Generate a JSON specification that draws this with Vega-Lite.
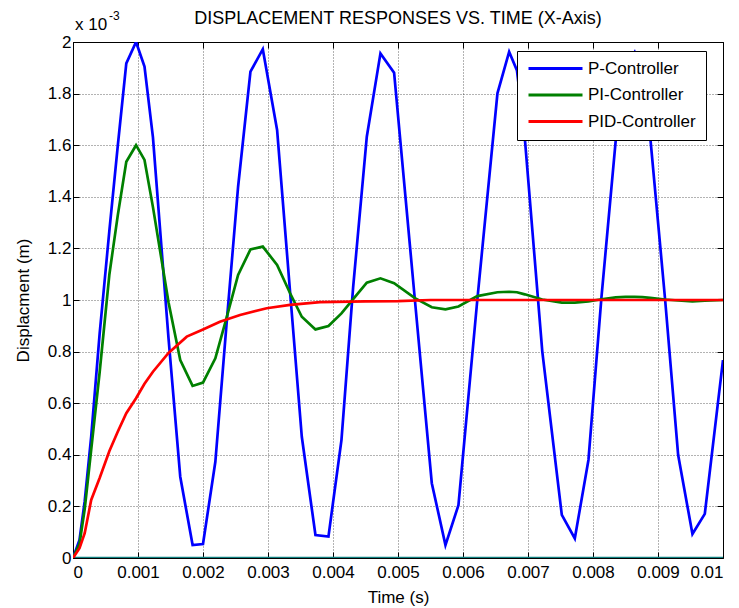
{
  "$schema": "https://vega.github.io/schema/vega-lite/v6.json",
  "width": 650,
  "height": 516,
  "autosize": {"type": "none"},
  "padding": {"left": 73, "top": 42, "right": 16, "bottom": 50},
  "background": "white",
  "title": {
    "text": "DISPLACEMENT RESPONSES VS. TIME (X-Axis)",
    "font": "Liberation Sans",
    "fontSize": 18,
    "fontWeight": "normal",
    "color": "black",
    "anchor": "middle",
    "frame": "group",
    "offset": -18
  },
  "config": {
    "font": "Liberation Sans",
    "view": {"stroke": "black", "strokeWidth": 1},
    "axis": {
      "labelFont": "Liberation Sans",
      "labelFontSize": 17,
      "labelColor": "black",
      "titleFont": "Liberation Sans",
      "titleFontSize": 17,
      "titleFontWeight": "normal",
      "titleColor": "black",
      "domain": false,
      "tickColor": "black",
      "tickSize": -6,
      "gridColor": "#000000",
      "gridOpacity": 0.6,
      "gridDash": [1, 2],
      "gridWidth": 1
    }
  },
  "datasets": {
    "series": [
      {"t": 0, "d": 0, "c": "P-Controller"},
      {"t": 0.0001, "d": 0.07, "c": "P-Controller"},
      {"t": 0.00018, "d": 0.22, "c": "P-Controller"},
      {"t": 0.00028, "d": 0.47, "c": "P-Controller"},
      {"t": 0.00041, "d": 0.87, "c": "P-Controller"},
      {"t": 0.00056, "d": 1.27, "c": "P-Controller"},
      {"t": 0.00069, "d": 1.6, "c": "P-Controller"},
      {"t": 0.00082, "d": 1.917, "c": "P-Controller"},
      {"t": 0.00097, "d": 2.0, "c": "P-Controller"},
      {"t": 0.0011, "d": 1.905, "c": "P-Controller"},
      {"t": 0.00123, "d": 1.63, "c": "P-Controller"},
      {"t": 0.00147, "d": 0.85, "c": "P-Controller"},
      {"t": 0.00165, "d": 0.315, "c": "P-Controller"},
      {"t": 0.00184, "d": 0.05, "c": "P-Controller"},
      {"t": 0.002, "d": 0.054, "c": "P-Controller"},
      {"t": 0.00219, "d": 0.373, "c": "P-Controller"},
      {"t": 0.00236, "d": 0.9, "c": "P-Controller"},
      {"t": 0.00254, "d": 1.439, "c": "P-Controller"},
      {"t": 0.00273, "d": 1.885, "c": "P-Controller"},
      {"t": 0.00292, "d": 1.972, "c": "P-Controller"},
      {"t": 0.00314, "d": 1.659, "c": "P-Controller"},
      {"t": 0.00334, "d": 1.03, "c": "P-Controller"},
      {"t": 0.00352, "d": 0.47, "c": "P-Controller"},
      {"t": 0.00373, "d": 0.089, "c": "P-Controller"},
      {"t": 0.00393, "d": 0.083, "c": "P-Controller"},
      {"t": 0.00413, "d": 0.457, "c": "P-Controller"},
      {"t": 0.00431, "d": 1.05, "c": "P-Controller"},
      {"t": 0.00452, "d": 1.633, "c": "P-Controller"},
      {"t": 0.00473, "d": 1.956, "c": "P-Controller"},
      {"t": 0.00494, "d": 1.881, "c": "P-Controller"},
      {"t": 0.00526, "d": 1.0, "c": "P-Controller"},
      {"t": 0.00552, "d": 0.29, "c": "P-Controller"},
      {"t": 0.00573, "d": 0.05, "c": "P-Controller"},
      {"t": 0.00593, "d": 0.205, "c": "P-Controller"},
      {"t": 0.00622, "d": 1.0, "c": "P-Controller"},
      {"t": 0.00653, "d": 1.801, "c": "P-Controller"},
      {"t": 0.00671, "d": 1.962, "c": "P-Controller"},
      {"t": 0.00683, "d": 1.89, "c": "P-Controller"},
      {"t": 0.00695, "d": 1.63, "c": "P-Controller"},
      {"t": 0.00722, "d": 0.8, "c": "P-Controller"},
      {"t": 0.00752, "d": 0.167, "c": "P-Controller"},
      {"t": 0.00772, "d": 0.076, "c": "P-Controller"},
      {"t": 0.00793, "d": 0.38, "c": "P-Controller"},
      {"t": 0.00813, "d": 1.01, "c": "P-Controller"},
      {"t": 0.00835, "d": 1.62, "c": "P-Controller"},
      {"t": 0.0085, "d": 1.9, "c": "P-Controller"},
      {"t": 0.00864, "d": 1.96, "c": "P-Controller"},
      {"t": 0.00876, "d": 1.86, "c": "P-Controller"},
      {"t": 0.00888, "d": 1.633, "c": "P-Controller"},
      {"t": 0.00911, "d": 1.0, "c": "P-Controller"},
      {"t": 0.00931, "d": 0.399, "c": "P-Controller"},
      {"t": 0.00953, "d": 0.093, "c": "P-Controller"},
      {"t": 0.00972, "d": 0.171, "c": "P-Controller"},
      {"t": 0.01, "d": 0.767, "c": "P-Controller"},

      {"t": 0, "d": 0, "c": "PI-Controller"},
      {"t": 0.0001, "d": 0.055, "c": "PI-Controller"},
      {"t": 0.00018, "d": 0.19, "c": "PI-Controller"},
      {"t": 0.00028, "d": 0.42, "c": "PI-Controller"},
      {"t": 0.00041, "d": 0.72, "c": "PI-Controller"},
      {"t": 0.00056, "d": 1.1, "c": "PI-Controller"},
      {"t": 0.00069, "d": 1.33, "c": "PI-Controller"},
      {"t": 0.00082, "d": 1.536, "c": "PI-Controller"},
      {"t": 0.00097, "d": 1.6, "c": "PI-Controller"},
      {"t": 0.0011, "d": 1.543, "c": "PI-Controller"},
      {"t": 0.00123, "d": 1.36, "c": "PI-Controller"},
      {"t": 0.00147, "d": 0.99, "c": "PI-Controller"},
      {"t": 0.00165, "d": 0.767, "c": "PI-Controller"},
      {"t": 0.00184, "d": 0.667, "c": "PI-Controller"},
      {"t": 0.002, "d": 0.68, "c": "PI-Controller"},
      {"t": 0.00219, "d": 0.774, "c": "PI-Controller"},
      {"t": 0.00236, "d": 0.929, "c": "PI-Controller"},
      {"t": 0.00254, "d": 1.097, "c": "PI-Controller"},
      {"t": 0.00273, "d": 1.196, "c": "PI-Controller"},
      {"t": 0.00292, "d": 1.207, "c": "PI-Controller"},
      {"t": 0.00314, "d": 1.136, "c": "PI-Controller"},
      {"t": 0.00334, "d": 1.026, "c": "PI-Controller"},
      {"t": 0.00352, "d": 0.935, "c": "PI-Controller"},
      {"t": 0.00373, "d": 0.886, "c": "PI-Controller"},
      {"t": 0.00393, "d": 0.899, "c": "PI-Controller"},
      {"t": 0.00413, "d": 0.948, "c": "PI-Controller"},
      {"t": 0.00431, "d": 1.003, "c": "PI-Controller"},
      {"t": 0.00452, "d": 1.067, "c": "PI-Controller"},
      {"t": 0.00473, "d": 1.084, "c": "PI-Controller"},
      {"t": 0.00494, "d": 1.065, "c": "PI-Controller"},
      {"t": 0.00526, "d": 1.007, "c": "PI-Controller"},
      {"t": 0.00552, "d": 0.972, "c": "PI-Controller"},
      {"t": 0.00573, "d": 0.964, "c": "PI-Controller"},
      {"t": 0.00593, "d": 0.975, "c": "PI-Controller"},
      {"t": 0.00622, "d": 1.015, "c": "PI-Controller"},
      {"t": 0.00653, "d": 1.03, "c": "PI-Controller"},
      {"t": 0.00671, "d": 1.032, "c": "PI-Controller"},
      {"t": 0.00683, "d": 1.03, "c": "PI-Controller"},
      {"t": 0.00695, "d": 1.022, "c": "PI-Controller"},
      {"t": 0.00722, "d": 1.002, "c": "PI-Controller"},
      {"t": 0.00752, "d": 0.99, "c": "PI-Controller"},
      {"t": 0.00772, "d": 0.99, "c": "PI-Controller"},
      {"t": 0.00793, "d": 0.995, "c": "PI-Controller"},
      {"t": 0.00813, "d": 1.003, "c": "PI-Controller"},
      {"t": 0.00835, "d": 1.01, "c": "PI-Controller"},
      {"t": 0.0085, "d": 1.012, "c": "PI-Controller"},
      {"t": 0.00864, "d": 1.012, "c": "PI-Controller"},
      {"t": 0.00876, "d": 1.011, "c": "PI-Controller"},
      {"t": 0.00888, "d": 1.008, "c": "PI-Controller"},
      {"t": 0.00911, "d": 1.002, "c": "PI-Controller"},
      {"t": 0.00931, "d": 0.998, "c": "PI-Controller"},
      {"t": 0.00953, "d": 0.995, "c": "PI-Controller"},
      {"t": 0.00972, "d": 0.997, "c": "PI-Controller"},
      {"t": 0.01, "d": 1.0, "c": "PI-Controller"},

      {"t": 0, "d": 0, "c": "PID-Controller"},
      {"t": 0.0001, "d": 0.038, "c": "PID-Controller"},
      {"t": 0.00018, "d": 0.096, "c": "PID-Controller"},
      {"t": 0.00028, "d": 0.225, "c": "PID-Controller"},
      {"t": 0.00041, "d": 0.31, "c": "PID-Controller"},
      {"t": 0.00056, "d": 0.415, "c": "PID-Controller"},
      {"t": 0.00069, "d": 0.49, "c": "PID-Controller"},
      {"t": 0.00082, "d": 0.561, "c": "PID-Controller"},
      {"t": 0.00097, "d": 0.619, "c": "PID-Controller"},
      {"t": 0.0011, "d": 0.675, "c": "PID-Controller"},
      {"t": 0.00123, "d": 0.722, "c": "PID-Controller"},
      {"t": 0.00147, "d": 0.795, "c": "PID-Controller"},
      {"t": 0.00175, "d": 0.858, "c": "PID-Controller"},
      {"t": 0.002, "d": 0.886, "c": "PID-Controller"},
      {"t": 0.00226, "d": 0.916, "c": "PID-Controller"},
      {"t": 0.00257, "d": 0.942, "c": "PID-Controller"},
      {"t": 0.00298, "d": 0.968, "c": "PID-Controller"},
      {"t": 0.00334, "d": 0.981, "c": "PID-Controller"},
      {"t": 0.0038, "d": 0.992, "c": "PID-Controller"},
      {"t": 0.0045, "d": 0.995, "c": "PID-Controller"},
      {"t": 0.005, "d": 0.996, "c": "PID-Controller"},
      {"t": 0.0055, "d": 1.0, "c": "PID-Controller"},
      {"t": 0.007, "d": 1.0, "c": "PID-Controller"},
      {"t": 0.0085, "d": 1.0, "c": "PID-Controller"},
      {"t": 0.01, "d": 1.0, "c": "PID-Controller"}
    ],
    "zero": [
      {"t": 0, "d": 0},
      {"t": 0.01, "d": 0}
    ]
  },
  "layer": [
    {
      "data": {"name": "zero"},
      "mark": {"type": "line", "color": "#0f8080", "strokeWidth": 2.5, "clip": true},
      "encoding": {
        "x": {
          "field": "t", "type": "quantitative",
          "scale": {"domain": [0, 0.01], "nice": false, "zero": false},
          "axis": {
            "orient": "bottom",
            "values": [0, 0.001, 0.002, 0.003, 0.004, 0.005, 0.006, 0.007, 0.008, 0.009, 0.01],
            "format": "~g",
            "title": "Time (s)",
            "grid": true,
            "labelPadding": 12,
            "titlePadding": 9
          }
        },
        "y": {
          "field": "d", "type": "quantitative",
          "scale": {"domain": [0, 2], "nice": false},
          "axis": {
            "orient": "left",
            "values": [0, 0.2, 0.4, 0.6, 0.8, 1, 1.2, 1.4, 1.6, 1.8, 2],
            "format": "~g",
            "title": "Displacment (m)",
            "grid": true,
            "labelPadding": 8,
            "titlePadding": 15
          }
        }
      }
    },
    {
      "data": {"name": "series"},
      "mark": {"type": "line", "strokeWidth": 2.7, "clip": true},
      "encoding": {
        "x": {"field": "t", "type": "quantitative",
          "axis": {"orient": "top", "values": [0, 0.001, 0.002, 0.003, 0.004, 0.005, 0.006, 0.007, 0.008, 0.009, 0.01], "labels": false, "title": null, "grid": false}},
        "y": {"field": "d", "type": "quantitative",
          "axis": {"orient": "right", "values": [0, 0.2, 0.4, 0.6, 0.8, 1, 1.2, 1.4, 1.6, 1.8, 2], "labels": false, "title": null, "grid": false}},
        "color": {
          "field": "c", "type": "nominal",
          "scale": {"domain": ["P-Controller", "PI-Controller", "PID-Controller"], "range": ["#0000ff", "#008000", "#ff0000"]},
          "legend": {
            "title": null,
            "orient": "none",
            "legendX": 444,
            "legendY": 9,
            "symbolType": "stroke",
            "symbolSize": 2916,
            "symbolStrokeWidth": 3,
            "clipHeight": 15,
            "rowPadding": 8.5,
            "labelFont": "Liberation Sans",
            "labelFontSize": 17,
            "labelColor": "black",
            "strokeColor": "black",
            "fillColor": "white",
            "padding": 10,
            "cornerRadius": 0
          }
        }
      }
    },
    {
      "data": {"values": [{"label": "x 10"}]},
      "mark": {"type": "text", "align": "left", "baseline": "alphabetic", "fontSize": 17, "color": "black", "dx": 2, "dy": -12},
      "encoding": {
        "x": {"datum": 0, "type": "quantitative", "axis": null},
        "y": {"datum": 2, "type": "quantitative", "axis": null},
        "text": {"field": "label"}
      }
    },
    {
      "data": {"values": [{"label": "-3"}]},
      "mark": {"type": "text", "align": "left", "baseline": "alphabetic", "fontSize": 12, "color": "black", "dx": 36, "dy": -22},
      "encoding": {
        "x": {"datum": 0, "type": "quantitative", "axis": null},
        "y": {"datum": 2, "type": "quantitative", "axis": null},
        "text": {"field": "label"}
      }
    }
  ],
  "resolve": {"axis": {"x": "independent", "y": "independent"}}
}
